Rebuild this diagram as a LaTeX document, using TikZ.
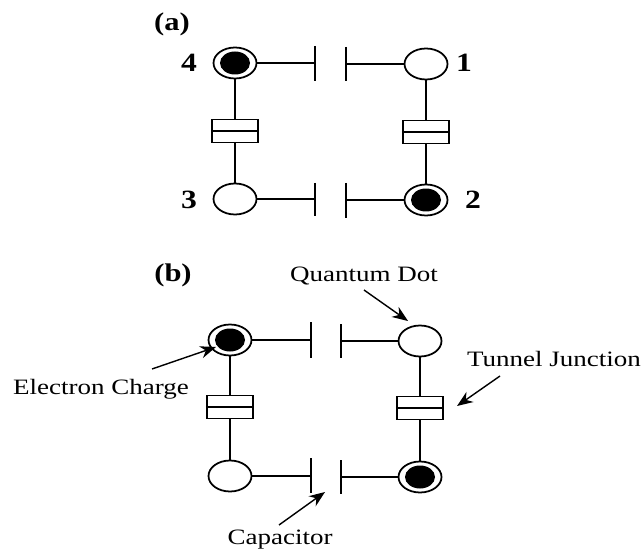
\documentclass[tikz,border=0pt]{standalone}
\usepackage{fontspec}
\setmainfont{Liberation Serif}
\usetikzlibrary{shapes.geometric,arrows.meta}
\tikzset{
	dot/.style={draw, ellipse, fill=white, line width=1pt, inner sep=0pt, minimum width=0.86cm, minimum height=0.62cm},
	charge/.style={ellipse, fill=black, inner sep=0pt, minimum width=0.6cm, minimum height=0.46cm},
	junction/.style={draw, rectangle, line width=1pt, inner sep=0pt, minimum width=0.93cm, minimum height=0.46cm},
	wire/.style={line width=1pt},
	plate/.style={line width=1.2pt},
	pointer/.style={-{Stealth[length=9pt,width=7pt]}, line width=0.8pt},
	caption/.style={font=\fontsize{12.5}{12.5}\selectfont, xscale=1.23, inner sep=0pt},
	panel/.style={font=\fontsize{14.5}{14.5}\selectfont\bfseries, xscale=1.2, inner sep=0pt},
	number/.style={font=\fontsize{15}{15}\selectfont\bfseries, xscale=1.2, inner sep=0pt}
}
\begin{document}
\begin{tikzpicture}[x=0.02cm, y=-0.02cm]
	\useasboundingbox (0,0) rectangle (641,550);

	\node[panel] (labela) at (172,24) {(a)};
	\node[dot] (a4) at (235,63) {};
	\node[charge] (a4in) at (235,63) {};
	\node[dot] (a1) at (426,64) {};
	\node[dot] (a3) at (235,199) {};
	\node[dot] (a2) at (426,200) {};
	\node[charge] (a2in) at (426,200) {};
	\node[number] (num4) at (189,63) {4};
	\node[number] (num1) at (464,63) {1};
	\node[number] (num3) at (189,200) {3};
	\node[number] (num2) at (473,200) {2};
	\node[junction] (ajl) at (235,131) {};
	\node[junction] (ajr) at (426,132) {};
	\coordinate (atl) at (315,46);
	\coordinate (atm) at (315,63);
	\coordinate (atb) at (315,81);
	\coordinate (btl) at (346,47);
	\coordinate (btm) at (346,64);
	\coordinate (btb) at (346,81);
	\coordinate (abl) at (315,183);
	\coordinate (abm) at (315,199);
	\coordinate (abb) at (315,216);
	\coordinate (bbl) at (346,183);
	\coordinate (bbm) at (346,200);
	\coordinate (bbb) at (346,218);

	\draw[plate] (atl) -- (atb);
	\draw[plate] (btl) -- (btb);
	\draw[plate] (abl) -- (abb);
	\draw[plate] (bbl) -- (bbb);
	\draw[wire] (a4) -- (atm);
	\draw[wire] (btm) -- (a1);
	\draw[wire] (a3) -- (abm);
	\draw[wire] (bbm) -- (a2);
	\draw[wire] (a4) -- (ajl);
	\draw[wire] (ajl) -- (a3);
	\draw[wire] (a1) -- (ajr);
	\draw[wire] (ajr) -- (a2);
	\draw[wire] (ajl.west) -- (ajl.east);
	\draw[wire] (ajr.west) -- (ajr.east);

	\node[panel] (labelb) at (173,275) {(b)};
	\node[dot] (d1) at (230,340) {};
	\node[charge] (d1in) at (230,340) {};
	\node[dot] (d2) at (420,341) {};
	\node[dot] (d3) at (230,476) {};
	\node[dot] (d4) at (420,477) {};
	\node[charge] (d4in) at (420,477) {};
	\node[junction] (bjl) at (230,407) {};
	\node[junction] (bjr) at (420,408) {};
	\coordinate (ctl) at (311,322);
	\coordinate (ctm) at (311,340);
	\coordinate (ctb) at (311,358);
	\coordinate (dtl) at (341,324);
	\coordinate (dtm) at (341,341);
	\coordinate (dtb) at (341,358);
	\coordinate (cbl) at (311,458);
	\coordinate (cbm) at (311,476);
	\coordinate (cbb) at (311,493);
	\coordinate (dbl) at (341,460);
	\coordinate (dbm) at (341,477);
	\coordinate (dbb) at (341,494);

	\draw[plate] (ctl) -- (ctb);
	\draw[plate] (dtl) -- (dtb);
	\draw[plate] (cbl) -- (cbb);
	\draw[plate] (dbl) -- (dbb);
	\draw[wire] (d1) -- (ctm);
	\draw[wire] (dtm) -- (d2);
	\draw[wire] (d3) -- (cbm);
	\draw[wire] (dbm) -- (d4);
	\draw[wire] (d1) -- (bjl);
	\draw[wire] (bjl) -- (d3);
	\draw[wire] (d2) -- (bjr);
	\draw[wire] (bjr) -- (d4);
	\draw[wire] (bjl.west) -- (bjl.east);
	\draw[wire] (bjr.west) -- (bjr.east);

	\node[caption] (quantum) at (364,276) {Quantum Dot};
	\node[caption] (tunnel) at (554,359) {Tunnel Junction};
	\node[caption] (electron) at (101,389) {Electron Charge};
	\node[caption] (capacitor) at (280,540) {Capacitor};
	\coordinate (qstart) at (364,290);
	\coordinate (qend) at (408,321);
	\coordinate (estart) at (152,369);
	\coordinate (eend) at (216,347);
	\coordinate (tstart) at (500,376);
	\coordinate (tend) at (457,406);
	\coordinate (cstart) at (279,525);
	\coordinate (cend) at (325,492);
	\draw[pointer] (qstart) -- (qend);
	\draw[pointer] (estart) -- (eend);
	\draw[pointer] (tstart) -- (tend);
	\draw[pointer] (cstart) -- (cend);
\end{tikzpicture}
\end{document}
